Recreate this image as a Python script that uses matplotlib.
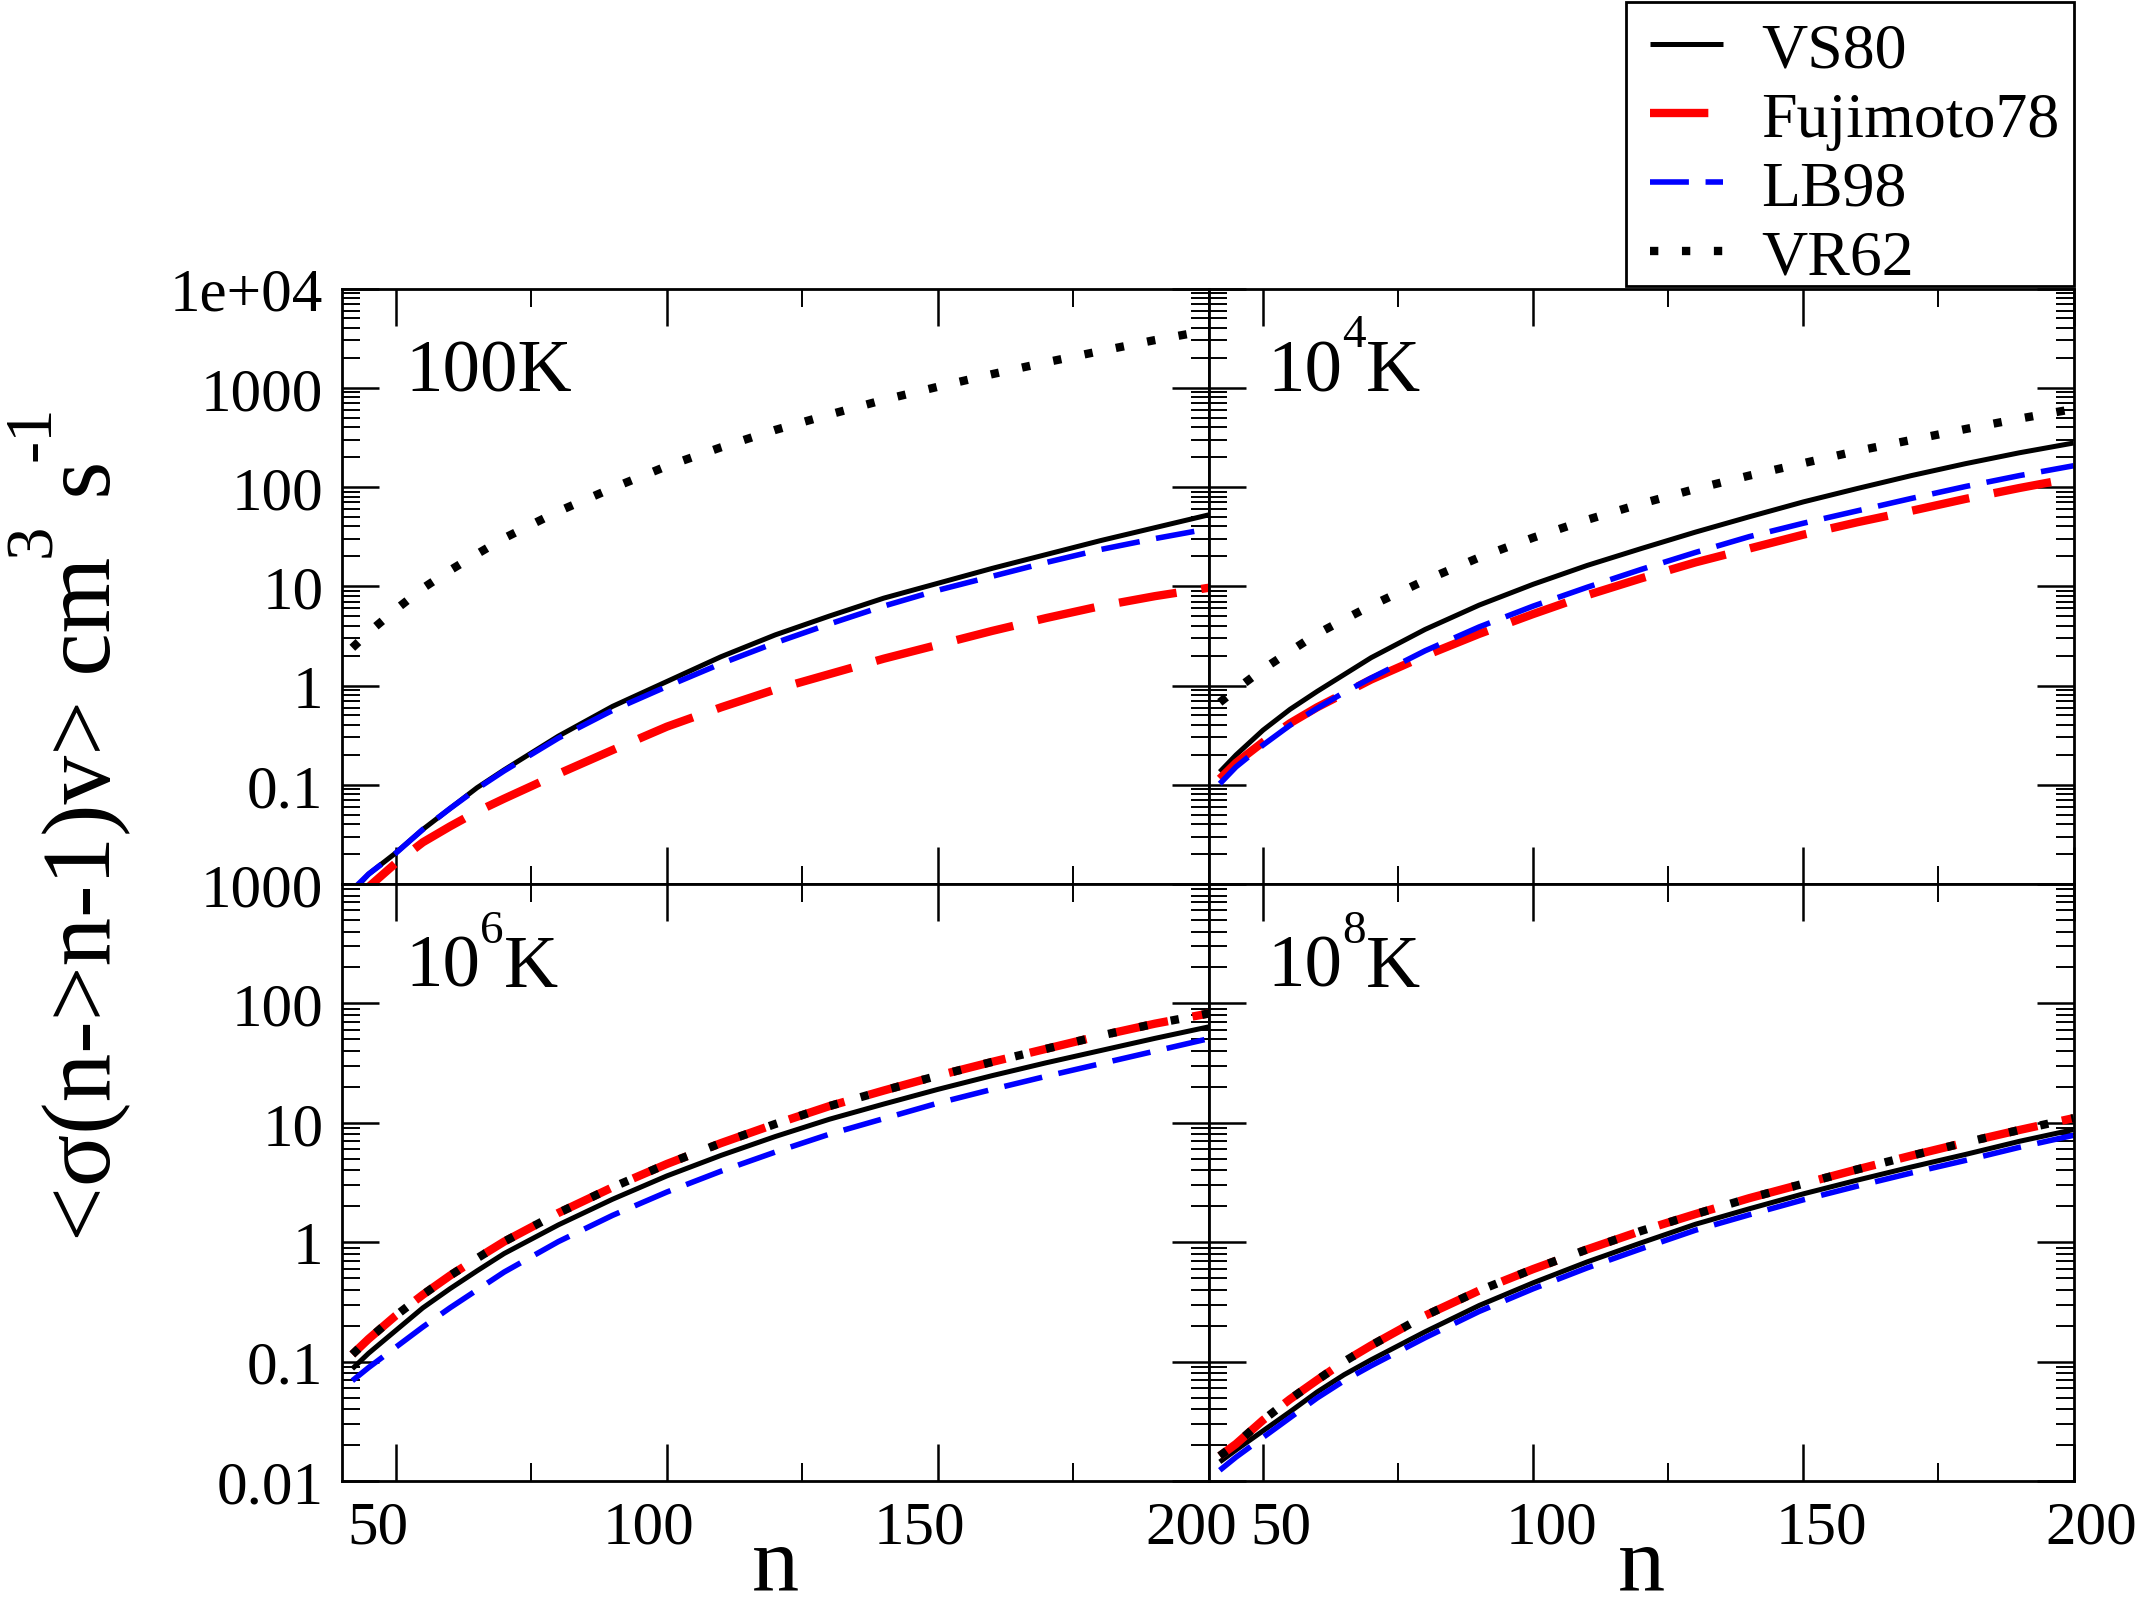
import numpy as np
import matplotlib
matplotlib.use("Agg")
import matplotlib.pyplot as plt
from matplotlib.font_manager import FontProperties
from matplotlib.ticker import FixedLocator, FixedFormatter, LogLocator, NullFormatter
from matplotlib.transforms import ScaledTranslation
from matplotlib.patches import Rectangle
from matplotlib.lines import Line2D

# ---------------- data: log10 <sigma v> ----------------
n_vals = [42, 45, 50, 55, 60, 65, 70, 80, 90, 100, 110, 120, 130, 140, 150, 160, 170, 180, 190, 200]

# T = 100 K
t100_vs80 = [-2.08, -1.90, -1.687, -1.45, -1.24, -1.03, -0.85, -0.51, -0.21, 0.04, 0.29, 0.51, 0.70, 0.88, 1.03, 1.18, 1.32, 1.46, 1.59, 1.72]
t100_fuji = [-2.20, -2.03, -1.79, -1.58, -1.42, -1.27, -1.14, -0.89, -0.65, -0.415, -0.22, -0.04, 0.115, 0.27, 0.41, 0.55, 0.68, 0.80, 0.90, 0.985]
t100_lb98 = [-2.06, -1.90, -1.69, -1.45, -1.24, -1.04, -0.86, -0.53, -0.25, -0.01, 0.22, 0.43, 0.62, 0.80, 0.96, 1.10, 1.24, 1.37, 1.48, 1.58]
t100_vr62 = [0.38, 0.535, 0.765, 0.98, 1.16, 1.325, 1.485, 1.755, 1.99, 2.21, 2.40, 2.575, 2.73, 2.878, 3.01, 3.137, 3.257, 3.37, 3.48, 3.58]

# T = 1e4 K
t1e4_vs80 = [-0.87, -0.70, -0.45, -0.24, -0.06, 0.11, 0.28, 0.565, 0.81, 1.02, 1.21, 1.38, 1.545, 1.70, 1.85, 1.985, 2.115, 2.235, 2.345, 2.443]
t1e4_fuji = [-0.94, -0.78, -0.57, -0.38, -0.22, -0.08, 0.06, 0.30, 0.52, 0.72, 0.91, 1.08, 1.24, 1.38, 1.52, 1.645, 1.76, 1.88, 1.99, 2.092]
t1e4_lb98 = [-0.99, -0.82, -0.60, -0.40, -0.23, -0.07, 0.075, 0.35, 0.59, 0.80, 0.99, 1.17, 1.34, 1.50, 1.635, 1.76, 1.885, 2.005, 2.115, 2.214]
t1e4_vr62 = [-0.17, -0.04, 0.165, 0.345, 0.52, 0.665, 0.805, 1.06, 1.29, 1.49, 1.67, 1.832, 1.98, 2.115, 2.24, 2.364, 2.474, 2.584, 2.689, 2.786]

# T = 1e6 K
t1e6_vs80 = [-1.06, -0.93, -0.74, -0.55, -0.39, -0.24, -0.095, 0.145, 0.36, 0.555, 0.727, 0.885, 1.03, 1.157, 1.28, 1.395, 1.503, 1.605, 1.707, 1.804]
t1e6_fuji = [-0.94, -0.81, -0.615, -0.44, -0.28, -0.135, 0.005, 0.245, 0.46, 0.655, 0.83, 0.99, 1.14, 1.27, 1.395, 1.51, 1.62, 1.73, 1.83, 1.916]
t1e6_lb98 = [-1.16, -1.05, -0.88, -0.71, -0.55, -0.40, -0.25, 0.005, 0.225, 0.42, 0.595, 0.755, 0.905, 1.035, 1.165, 1.28, 1.39, 1.495, 1.60, 1.705]
t1e6_vr62 = [-0.94, -0.81, -0.615, -0.44, -0.28, -0.135, 0.005, 0.245, 0.46, 0.655, 0.83, 0.99, 1.14, 1.27, 1.395, 1.51, 1.62, 1.73, 1.83, 1.916]

# T = 1e8 K
t1e8_vs80 = [-1.84, -1.74, -1.58, -1.42, -1.255, -1.11, -0.985, -0.75, -0.53, -0.34, -0.165, -0.005, 0.15, 0.28, 0.405, 0.52, 0.63, 0.735, 0.845, 0.943]
t1e8_fuji = [-1.79, -1.69, -1.49, -1.315, -1.155, -1.0, -0.865, -0.615, -0.405, -0.225, -0.06, 0.095, 0.235, 0.369, 0.49, 0.61, 0.725, 0.835, 0.94, 1.039]
t1e8_lb98 = [-1.91, -1.80, -1.635, -1.47, -1.305, -1.16, -1.035, -0.80, -0.58, -0.39, -0.215, -0.055, 0.10, 0.23, 0.355, 0.47, 0.58, 0.685, 0.795, 0.895]
t1e8_vr62 = [-1.79, -1.69, -1.49, -1.315, -1.155, -1.0, -0.865, -0.615, -0.405, -0.225, -0.06, 0.095, 0.235, 0.369, 0.49, 0.61, 0.725, 0.835, 0.94, 1.039]

series_names = ["VS80", "Fujimoto78", "LB98", "VR62"]
x_major = [50, 100, 150, 200]
x_minor = [75, 125, 175]
x_labels = ["50", "100", "150", "200"]
y_top_ticks = [1e-2, 1e-1, 1, 10, 100, 1000, 1e4]
y_top_labels = ["", "0.1", "1", "10", "100", "1000", "1e+04"]
y_bot_ticks = [1e-2, 1e-1, 1, 10, 100, 1000]
y_bot_labels = ["0.01", "0.1", "1", "10", "100", "1000"]

# ---------------- figure ----------------
W, H, DPI = 2142, 1615, 100
plt.rcParams['font.family'] = ['Liberation Serif', 'DejaVu Serif']
plt.rcParams['lines.scale_dashes'] = False
plt.rcParams['axes.linewidth'] = 2.0

fig = plt.figure(figsize=(W / DPI, H / DPI), dpi=DPI)
fig.patch.set_facecolor('white')

XL, XM, XR = 341.5, 1209.0, 2073.5
YT, YM, YB = 289.5, 885.0, 1482.0


def box(x0, x1, y0, y1):
    return [x0 / W, 1 - y1 / H, (x1 - x0) / W, (y1 - y0) / H]


ax_tl = fig.add_axes(box(XL, XM, YT, YM))
ax_tr = fig.add_axes(box(XM, XR, YT, YM))
ax_bl = fig.add_axes(box(XL, XM, YM, YB))
ax_br = fig.add_axes(box(XM, XR, YM, YB))

styles = {
    "VS80": dict(color='black', lw=3.6, ls='-'),
    "Fujimoto78": dict(color='#ff0000', lw=6.0, ls=(0, (42, 18))),
    "LB98": dict(color='#0000ff', lw=4.0, ls=(0, (28, 12))),
    "VR62": dict(color='black', lw=6.0, ls=(0, (6.0, 17.0))),
}

panels = [
    (ax_tl, [t100_vs80, t100_fuji, t100_lb98, t100_vr62], (1e-2, 1e4), y_top_ticks, y_top_labels, True, False, -18),
    (ax_tr, [t1e4_vs80, t1e4_fuji, t1e4_lb98, t1e4_vr62], (1e-2, 1e4), y_top_ticks, y_top_labels, False, False, 18),
    (ax_bl, [t1e6_vs80, t1e6_fuji, t1e6_lb98, t1e6_vr62], (1e-2, 1e3), y_bot_ticks, y_bot_labels, True, True, -18),
    (ax_br, [t1e8_vs80, t1e8_fuji, t1e8_lb98, t1e8_vr62], (1e-2, 1e3), y_bot_ticks, y_bot_labels, False, True, 18),
]

n_arr = np.array(n_vals, dtype=float)
for ax, data, ylim, yt, yl, show_y, show_x, xdx in panels:
    for name, vals in zip(series_names, data):
        st = styles[name]
        ax.plot(n_arr, 10.0 ** np.array(vals), color=st['color'], lw=st['lw'],
                linestyle=st['ls'], dash_capstyle='butt', solid_capstyle='butt',
                solid_joinstyle='round', label=name)
    ax.set_yscale('log')
    ax.set_xlim(40, 200)
    ax.set_ylim(*ylim)
    ax.xaxis.set_major_locator(FixedLocator(x_major))
    ax.xaxis.set_major_formatter(FixedFormatter(x_labels))
    ax.xaxis.set_minor_locator(FixedLocator(x_minor))
    ax.yaxis.set_major_locator(FixedLocator(yt))
    ax.yaxis.set_major_formatter(FixedFormatter(yl))
    ax.yaxis.set_minor_locator(LogLocator(base=10, subs=np.arange(2, 10), numticks=100))
    ax.yaxis.set_minor_formatter(NullFormatter())
    ax.tick_params(which='both', direction='in', top=True, bottom=True, left=True, right=True)
    ax.tick_params(which='major', length=26.5, width=1.8)
    ax.tick_params(which='minor', length=13, width=1.4)
    ax.tick_params(axis='x', labelsize=44, pad=14, labelbottom=show_x)
    ax.tick_params(axis='y', labelsize=44, pad=13, labelleft=show_y)
    for sp in ax.spines.values():
        sp.set_linewidth(2.0)
    if show_x:
        off = ScaledTranslation(xdx / DPI, 0, fig.dpi_scale_trans)
        for lab in ax.get_xticklabels():
            lab.set_transform(lab.get_transform() + off)

renderer = fig.canvas.get_renderer()


def text_w(s, size):
    fp = FontProperties(family=['Liberation Serif'], size=size)
    w, h, d = renderer.get_text_width_height_descent(s, fp, ismath=False)
    return w, fp


def pieces_h(x_px, base_px, pieces):
    x = x_px
    for s, size, rise in pieces:
        w, fp = text_w(s, size)
        fig.text(x / W, 1 - (base_px - rise) / H, s, fontproperties=fp,
                 ha='left', va='baseline')
        x += w


def pieces_v(base_x_px, start_y_px, pieces):
    y = start_y_px
    for s, size, rise in pieces:
        w, fp = text_w(s, size)
        fig.text((base_x_px - rise) / W, 1 - y / H, s, fontproperties=fp,
                 rotation=90, rotation_mode='anchor', ha='left', va='baseline')
        y -= w


# panel labels
PL, PS = 54, 34
pieces_h(405, 392, [("100K", PL, 0)])
pieces_h(1267, 391, [("10", PL, 0), ("4", PS, 44), ("K", PL, 0)])
pieces_h(405, 987, [("10", PL, 0), ("6", PS, 44), ("K", PL, 0)])
pieces_h(1267, 987, [("10", PL, 0), ("8", PS, 44), ("K", PL, 0)])

# y axis label
pieces_v(110, 1241, [("<σ(n->n-1)v> cm", 70, 0), ("3", 48, 60), (" s", 70, 0), ("-1", 48, 60)])

# x axis labels
fig.text(775 / W, 24 / H, "n", fontsize=68, ha='center', va='baseline')
fig.text(1641 / W, 24 / H, "n", fontsize=68, ha='center', va='baseline')

# legend
handles = [Line2D([], [], color=styles[nm]['color'], lw=styles[nm]['lw'], linestyle=styles[nm]['ls'],
                  dash_capstyle='butt', solid_capstyle='butt') for nm in series_names]
fig.legend(handles, series_names, loc='upper left', bbox_to_anchor=(1650 / W, 1 - 23 / H),
           frameon=False, fontsize=46, borderpad=0, borderaxespad=0,
           handlelength=1.14, handletextpad=0.6, labelspacing=0.16)
fig.patches.append(Rectangle((1626 / W, 1 - 287 / H), (2074 - 1626) / W, (287 - 3) / H,
                             transform=fig.transFigure, fill=False, lw=2.0, ec='black',
                             figure=fig))

fig.savefig("out.png", dpi=DPI, facecolor='white')
